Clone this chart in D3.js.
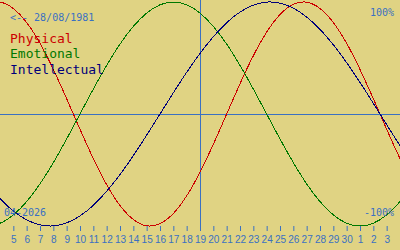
<!DOCTYPE html>
<html>
<head>
<meta charset="utf-8">
<script src="https://cdn.jsdelivr.net/npm/d3@7"></script>
<style>
  body { margin: 0; background: #e0d383; }
  svg { display: block; }
  .mono { font-family: "DejaVu Sans Mono", monospace; }
</style>
</head>
<body>
<script>
// day of month for each sample, 03 Apr .. 05 May 2026 (centre = 19 Apr)
var days = [3, 4, 5, 6, 7, 8, 9, 10, 11, 12, 13, 14, 15, 16, 17, 18, 19,
  20, 21, 22, 23, 24, 25, 26, 27, 28, 29, 30, 1, 2, 3, 4, 5];

// values in %, one per day
var physical = [97.9, 99.8, 94.2, 81.7, 63.1, 39.8, 13.6, -13.6, -39.8, -63.1, -81.7,
  -94.2, -99.8, -97.9, -88.8, -73.1, -52.0, -27.0, 0, 27.0, 52.0, 73.1, 88.8, 97.9,
  99.8, 94.2, 81.7, 63.1, 39.8, 13.6, -13.6, -39.8, -63.1];
var emotional = [-100, -97.5, -90.1, -78.2, -62.4, -43.4, -22.3, 0, 22.3, 43.4, 62.4,
  78.2, 90.1, 97.5, 100, 97.5, 90.1, 78.2, 62.4, 43.4, 22.3, 0, -22.3, -43.4, -62.4,
  -78.2, -90.1, -97.5, -100, -97.5, -90.1, -78.2, -62.4];
var intellectual = [-61.8, -75.6, -86.6, -94.5, -99.0, -99.9, -97.2, -91.0, -81.5,
  -69.0, -54.1, -37.2, -18.9, 0, 18.9, 37.2, 54.1, 69.0, 81.5, 91.0, 97.2, 99.9,
  99.0, 94.5, 86.6, 75.6, 61.8, 45.8, 28.2, 9.5, -9.5, -28.2, -45.8];

var names = ['Physical', 'Emotional', 'Intellectual'];
var colors = ['#cc0000', '#007800', '#00007a'];
var birth = '28/08/1981';
var month = '04-2026';
var centre = 16; // index of 19 Apr

var width = 400, height = 250;
var accent = '#3a70c2';

var svg = d3.select('body').append('svg')
  .attr('width', width)
  .attr('height', height);

var x = d3.scaleLinear().domain([centre - 15, centre + 15]).range([0, width]);
var y = d3.scaleLinear().domain([-100, 100]).range([226, 2]);

// centre cross
svg.append('line')
  .attr('x1', 0).attr('x2', width)
  .attr('y1', Math.round(y(0)) + 0.5).attr('y2', Math.round(y(0)) + 0.5)
  .attr('stroke', accent);
svg.append('line')
  .attr('x1', x(centre) + 0.5).attr('x2', x(centre) + 0.5)
  .attr('y1', 0).attr('y2', 231)
  .attr('stroke', accent);

var line = d3.line()
  .x(function(d, i) { return x(i); })
  .y(function(d) { return y(d); })
  .curve(d3.curveNatural);

[physical, emotional, intellectual].forEach(function(s, j) {
  svg.append('path')
    .attr('d', line(s))
    .attr('fill', 'none')
    .attr('stroke', colors[j])
    .attr('stroke-width', 1)
    .attr('shape-rendering', 'crispEdges');
});

// day axis
var axis = d3.axisBottom(x)
  .tickValues(d3.range(centre - 14, centre + 15))
  .tickFormat(function(i) { return days[i]; })
  .tickSize(5)
  .tickPadding(5);

var g = svg.append('g')
  .attr('transform', 'translate(0,226)')
  .call(axis);
g.select('.domain').remove();
g.selectAll('line').attr('stroke', accent);
g.selectAll('text')
  .attr('fill', accent)
  .style('font-family', '"Liberation Sans Narrow", "Liberation Sans", sans-serif')
  .style('font-size', '10px');

// texts
svg.append('text').attr('class', 'mono')
  .attr('x', 10).attr('y', 21)
  .attr('font-size', 10).attr('fill', accent)
  .text('<-- ' + birth);

names.forEach(function(n, j) {
  svg.append('text').attr('class', 'mono')
    .attr('x', 10).attr('y', 43 + j * 15.3)
    .attr('font-size', 13).attr('fill', colors[j])
    .text(n);
});

svg.append('text').attr('class', 'mono')
  .attr('x', 394).attr('y', 16).attr('text-anchor', 'end')
  .attr('font-size', 10).attr('fill', accent)
  .text('100%');
svg.append('text').attr('class', 'mono')
  .attr('x', 394).attr('y', 216).attr('text-anchor', 'end')
  .attr('font-size', 10).attr('fill', accent)
  .text('-100%');
svg.append('text').attr('class', 'mono')
  .attr('x', 4).attr('y', 216)
  .attr('font-size', 10).attr('fill', accent)
  .text(month);
</script>
</body>
</html>
